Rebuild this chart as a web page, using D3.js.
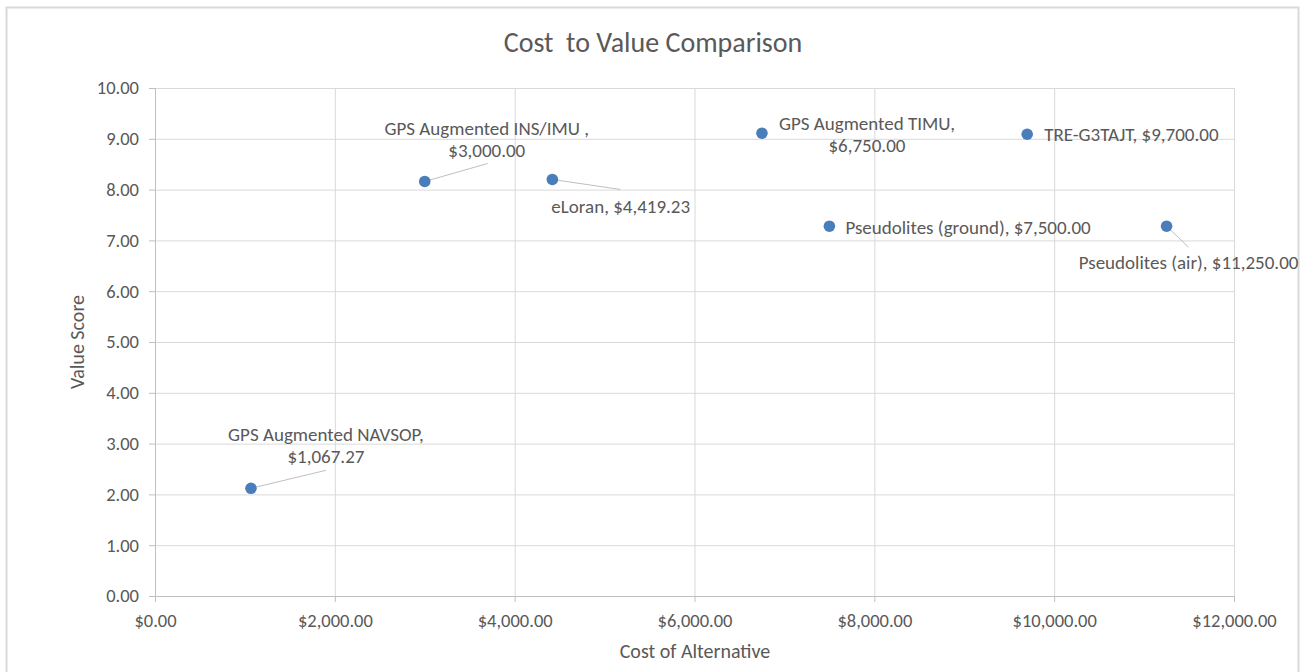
<!DOCTYPE html>
<html lang="en">
  <head>
    <meta charset="UTF-8" />
    <title>Cost to Value Comparison</title>
    <script src="https://cdn.jsdelivr.net/npm/d3@7"></script>
  </head>
  <body>
    <svg></svg>
    <style>
      body { margin: 0; background: #fff; }
      svg { width: 1305px; height: 672px; display: block; }
      text { font-family: Carlito, Lato, "Liberation Sans", sans-serif; fill: #595959; }
    </style>
    <script>
      const width = 1305;
      const height = 672;

      // data
      const names = [
        "GPS Augmented NAVSOP",
        "GPS Augmented INS/IMU ",
        "eLoran",
        "GPS Augmented TIMU",
        "Pseudolites (ground)",
        "TRE-G3TAJT",
        "Pseudolites (air)"
      ];
      const costs = [1067.27, 3000, 4419.23, 6750, 7500, 9700, 11250];
      const scores = [2.12, 8.16, 8.2, 9.11, 7.28, 9.09, 7.28];
      const xTicks = [0, 2000, 4000, 6000, 8000, 10000, 12000];
      const yTicks = [0, 1, 2, 3, 4, 5, 6, 7, 8, 9, 10];

      // label placement (pixels relative to the point), wrap = two lines
      const labelLayout = [
        { dx: 75, dy: -54, anchor: "middle", wrap: true, lead: [75, -18] },
        { dx: 62, dy: -53, anchor: "middle", wrap: true, lead: [63, -18] },
        { dx: -1, dy: 27, anchor: "start", wrap: false, lead: [68, 10] },
        { dx: 17, dy: -10, anchor: "start", wrap: true, lead: null, dx2: 105 },
        { dx: 16, dy: 1, anchor: "start", wrap: false, lead: null },
        { dx: 17, dy: 0, anchor: "start", wrap: false, lead: null },
        { dx: 22, dy: 36, anchor: "middle", wrap: false, lead: [22, 21] }
      ];

      const margin = { left: 155, right: width - 1234, top: 88, bottom: height - 596 };
      const svg = d3.select("svg").attr("viewBox", [0, 0, width, height]);

      svg.append("rect")
        .attr("x", 6.5).attr("y", 7.5)
        .attr("width", 1292).attr("height", 700)
        .attr("fill", "#fff").attr("stroke", "#d9d9d9").attr("stroke-width", 2);

      const x = d3.scaleLinear().domain([0, 12000]).range([margin.left, width - margin.right]);
      const y = d3.scaleLinear().domain([0, 10]).range([height - margin.bottom, margin.top]);

      const money = d3.format("$,.2f");

      // gridlines
      svg.append("g").selectAll("line").data(xTicks.slice(1)).join("line")
        .attr("x1", d => x(d) + 0.5).attr("x2", d => x(d) + 0.5)
        .attr("y1", y(10)).attr("y2", y(0))
        .attr("stroke", "#d9d9d9");
      svg.append("g").selectAll("line").data(yTicks.slice(1)).join("line")
        .attr("x1", x(0)).attr("x2", x(12000))
        .attr("y1", d => y(d) + 0.5).attr("y2", d => y(d) + 0.5)
        .attr("stroke", "#d9d9d9");

      // axes
      const xAxis = svg.append("g")
        .attr("transform", `translate(0,${y(0)})`)
        .call(d3.axisBottom(x).tickValues(xTicks).tickFormat(money).tickSize(6).tickPadding(12));
      const yAxis = svg.append("g")
        .attr("transform", `translate(${x(0)},0)`)
        .call(d3.axisLeft(y).tickValues(yTicks).tickFormat(d3.format(".2f")).tickSize(6).tickPadding(10));
      [xAxis, yAxis].forEach(a => {
        a.select(".domain").attr("stroke", "#bfbfbf");
        a.selectAll(".tick line").attr("stroke", "#bfbfbf");
        a.selectAll("text").attr("font-size", 18.5).attr("fill", "#595959")
          .style("font-family", "Carlito, Lato, sans-serif");
      });

      // points
      const pts = names.map((n, i) => ({ name: n, cost: costs[i], score: scores[i], lay: labelLayout[i] }));

      svg.append("g").selectAll("line").data(pts.filter(d => d.lay.lead)).join("line")
        .attr("x1", d => x(d.cost)).attr("y1", d => y(d.score))
        .attr("x2", d => x(d.cost) + d.lay.lead[0]).attr("y2", d => y(d.score) + d.lay.lead[1])
        .attr("stroke", "#bfbfbf");

      svg.append("g").selectAll("circle").data(pts).join("circle")
        .attr("cx", d => x(d.cost)).attr("cy", d => y(d.score))
        .attr("r", 5.8).attr("fill", "#4a7ebb");

      const labels = svg.append("g").selectAll("text").data(pts).join("text")
        .attr("font-size", 19)
        .attr("text-anchor", d => d.lay.anchor)
        .attr("x", d => x(d.cost) + d.lay.dx)
        .attr("y", d => y(d.score) + d.lay.dy)
        .attr("dy", "0.35em");
      labels.each(function (d) {
        const t = d3.select(this);
        if (d.lay.wrap) {
          t.append("tspan").text(d.name + ",");
          t.append("tspan")
            .attr("x", x(d.cost) + (d.lay.dx2 !== undefined ? d.lay.dx2 : d.lay.dx))
            .attr("text-anchor", "middle")
            .attr("dy", 22).text(money(d.cost));
        } else {
          t.text(d.name + ", " + money(d.cost));
        }
      });

      // titles
      svg.append("text").attr("x", 653).attr("y", 52).attr("text-anchor", "middle")
        .attr("font-size", 28).style("white-space", "pre").text("Cost  to Value Comparison");
      svg.append("text").attr("x", 695).attr("y", 658).attr("text-anchor", "middle")
        .attr("font-size", 20).text("Cost of Alternative");
      svg.append("text").attr("transform", "translate(84,342) rotate(-90)")
        .attr("text-anchor", "middle").attr("font-size", 20).text("Value Score");
    </script>
  </body>
</html>
